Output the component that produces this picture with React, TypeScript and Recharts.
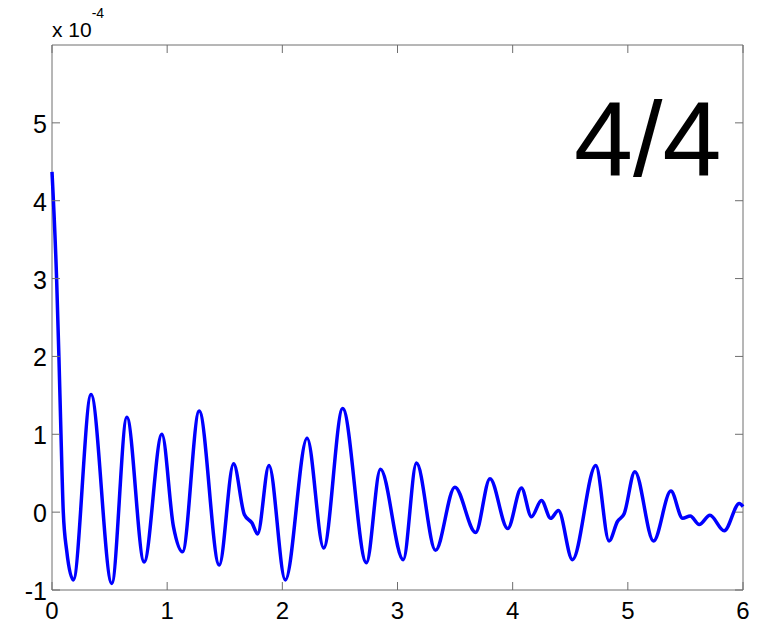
import React from "react";
import { LineChart, Line, XAxis, YAxis, ReferenceArea } from "recharts";

// time (s) and response (x 1e-4), read at the turning points of the trace
const time = [
  0, 0.04, 0.06, 0.078, 0.098, 0.128, 0.185, 0.339, 0.519, 0.65, 0.8, 0.954, 1.055, 1.133,
  1.278, 1.452, 1.577, 1.67, 1.737, 1.785, 1.884, 2.026, 2.215, 2.359, 2.524, 2.73, 2.852,
  3.05, 3.165, 3.33, 3.498, 3.678, 3.803, 3.957, 4.076, 4.163, 4.25, 4.33, 4.397, 4.519,
  4.722, 4.837, 4.91, 4.968, 5.061, 5.223, 5.374, 5.476, 5.542, 5.62, 5.713, 5.837, 5.968, 6,
];
const response = [
  4.37, 3, 2, 1, 0, -0.5, -0.87, 1.51, -0.915, 1.22, -0.64, 1.0, -0.19, -0.51,
  1.3, -0.68, 0.62, -0.03, -0.14, -0.28, 0.6, -0.87, 0.95, -0.46, 1.33, -0.65, 0.55,
  -0.61, 0.63, -0.49, 0.32, -0.26, 0.43, -0.21, 0.31, -0.06, 0.15, -0.08, 0.02, -0.61,
  0.6, -0.37, -0.12, -0.02, 0.52, -0.37, 0.27, -0.08, -0.05, -0.16, -0.04, -0.24, 0.11, 0.07,
];
const xTicks = [0, 1, 2, 3, 4, 5, 6];
const yTicks = [-1, 0, 1, 2, 3, 4, 5];

const data = time.map((t, i) => ({ t, v: response[i] }));

const W = 775;
const H = 624;
const TOP = 45;
const BOTTOM = 590;
const LEFT = 52;
const RIGHT = 743;
const FONT = "'Liberation Sans', Arial, sans-serif";
const BOX = "#6e6e6e";

const XTick = ({ x, payload }: any) => (
  <g>
    <line x1={x} x2={x} y1={BOTTOM} y2={BOTTOM - 8} stroke={BOX} />
    <line x1={x} x2={x} y1={TOP} y2={TOP + 8} stroke={BOX} />
    <text x={x} y={619} textAnchor="middle" fontSize={24} fontFamily={FONT} fill="#000">
      {payload.value}
    </text>
  </g>
);

const YTick = ({ y, payload }: any) => (
  <g>
    <line x1={LEFT} x2={LEFT + 8} y1={y} y2={y} stroke={BOX} />
    <line x1={RIGHT} x2={RIGHT - 8} y1={y} y2={y} stroke={BOX} />
    <text x={47} y={y + 10} textAnchor="end" fontSize={25} fontFamily={FONT} fill="#000">
      {payload.value}
    </text>
  </g>
);

export default function App() {
  return (
    <div style={{ position: "absolute", left: 0, top: 0, width: W, height: H, background: "#fff" }}>
      <LineChart
        width={W}
        height={H}
        data={data}
        margin={{ top: TOP, right: W - RIGHT, bottom: 0, left: 0 }}
      >
        <XAxis
          dataKey="t"
          type="number"
          domain={[0, 6]}
          ticks={xTicks}
          height={H - BOTTOM}
          axisLine={false}
          tickLine={false}
          tick={<XTick />}
          interval={0}
        />
        <YAxis
          type="number"
          domain={[-1, 6]}
          ticks={yTicks}
          width={LEFT}
          axisLine={false}
          tickLine={false}
          tick={<YTick />}
          interval={0}
          allowDataOverflow
        />
        <ReferenceArea x1={0} x2={6} y1={-1} y2={6} fill="none" stroke={BOX} strokeWidth={1} />
        <Line
          dataKey="v"
          type="monotone"
          stroke="#0000ff"
          strokeWidth={3.5}
          dot={false}
          isAnimationActive={false}
        />
      </LineChart>
      <svg
        width={W}
        height={H}
        style={{ position: "absolute", left: 0, top: 0, pointerEvents: "none" }}
      >
        <text x={52} y={37} fontSize={21} fontFamily={FONT} fill="#000">
          x 10
          <tspan dy={-19} fontSize={14}>-4</tspan>
        </text>
        <text x={574} y={176} fontSize={106} fontFamily={FONT} fill="#000">
          4/4
        </text>
      </svg>
    </div>
  );
}
